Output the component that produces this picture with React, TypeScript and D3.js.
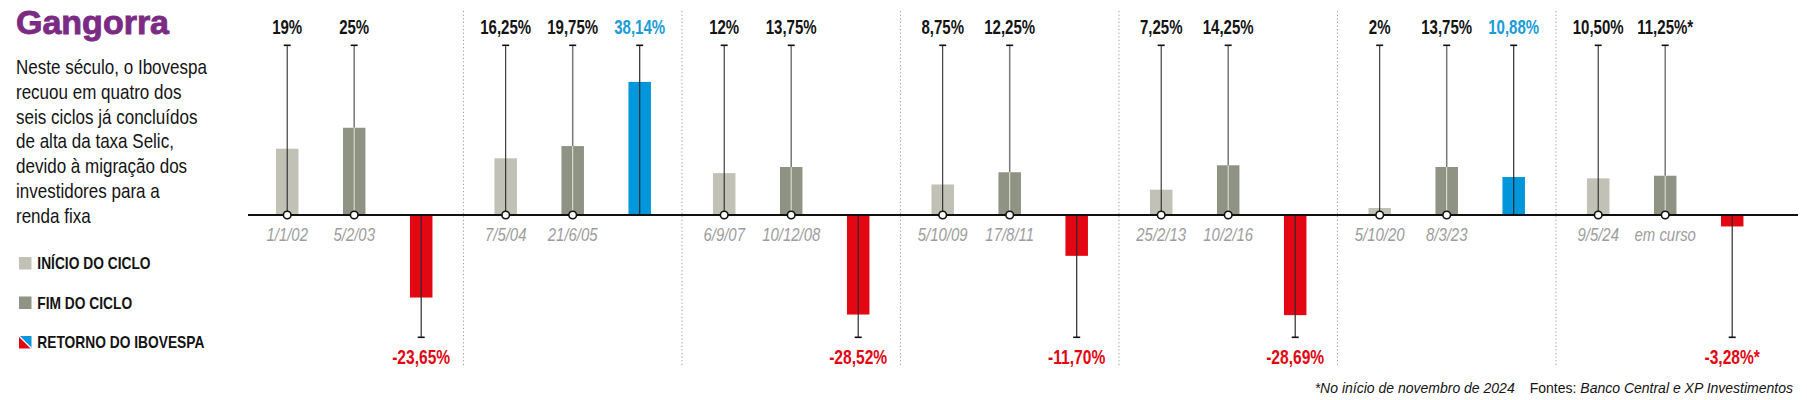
import React from 'react';
import * as d3 from 'd3';

// ---------- data ----------
const cycles = ['2002-2003', '2004-2005', '2007-2008', '2009-2011', '2013-2016', '2020-2023', '2024-'];
const startDates = ['1/1/02', '7/5/04', '6/9/07', '5/10/09', '25/2/13', '5/10/20', '9/5/24'];
const endDates = ['5/2/03', '21/6/05', '10/12/08', '17/8/11', '10/2/16', '8/3/23', 'em curso'];
const startRates = [19, 16.25, 12, 8.75, 7.25, 2, 10.5];
const endRates = [25, 19.75, 13.75, 12.25, 14.25, 13.75, 11.25];
const ibovReturns = [-23.65, 38.14, -28.52, -11.7, -28.69, 10.88, -3.28];
const provisional = [false, false, false, false, false, false, true];

const slots = ['start', 'end', 'ret'];

const titleText = 'Gangorra';
const subtitleLines = [
  'Neste século, o Ibovespa',
  'recuou em quatro dos',
  'seis ciclos já concluídos',
  'de alta da taxa Selic,',
  'devido à migração dos',
  'investidores para a',
  'renda fixa',
];
const legendLabels = ['INÍCIO DO CICLO', 'FIM DO CICLO', 'RETORNO DO IBOVESPA'];
const footnoteText = '*No início de novembro de 2024';
const sourcePrefix = 'Fontes: ';
const sourceText = 'Banco Central e XP Investimentos';

// ---------- style ----------
const W = 1807;
const H = 400;
const C = {
  start: '#c1c2b5',
  end: '#8f9383',
  up: '#0096db',
  upText: '#1b9bd8',
  down: '#e30613',
  title: '#7b2b84',
  text: '#141414',
  date: '#9d9d9d',
  sep: '#9a9a9a',
};
const FONT = '"Liberation Sans", Arial, sans-serif';

const fmtRate = (v: number) => (Number.isInteger(v) ? String(v) : v.toFixed(2)).replace('.', ',') + '%';
const fmtRet = (v: number) => v.toFixed(2).replace('.', ',') + '%';

type NTProps = {
  x: number;
  y: number;
  size: number;
  sx?: number;
  anchor?: 'start' | 'middle' | 'end';
  weight?: number;
  italic?: boolean;
  fill?: string;
  children: React.ReactNode;
};

// condensed text: horizontally squeezed Liberation Sans
function NText({ x, y, size, sx = 0.82, anchor = 'start', weight = 400, italic = false, fill = C.text, children }: NTProps) {
  return (
    <text
      transform={`translate(${x},${y}) scale(${sx},1)`}
      textAnchor={anchor}
      fontFamily={FONT}
      fontSize={size}
      fontWeight={weight}
      fontStyle={italic ? 'italic' : 'normal'}
      fill={fill}
    >
      {children}
    </text>
  );
}

export default function App() {
  const x = d3.scaleBand<string>().domain(cycles).range([253.5, 1783]);
  const slot = d3.scalePoint<string>().domain(slots).range([33.7, 167.7]);
  const y = d3.scaleLinear().domain([-30, 40]).range([319.7, 75.4]);
  const y0 = y(0);
  const whiskerTop = 45.3;
  const whiskerBottom = 337.3;
  const bw = 22.5;
  const capW = 3.5;
  const topLabelY = 33.5;
  const dateY = 240.5;
  const negLabelY = 363.5;
  const labelSize = 19.5;
  const labelSx = 0.77;

  const cx = (i: number, s: string) => (x(cycles[i]) as number) + (slot(s) as number);

  const separators = cycles.slice(0, -1).map((_, i) => (cx(i, 'ret') + cx(i + 1, 'start')) / 2);

  return (
    <svg width={W} height={H} style={{ position: 'absolute', left: 0, top: 0, background: '#fff' }}>
      {/* title & subtitle */}
      <text
        x={16}
        y={34}
        fontFamily={FONT}
        fontWeight={700}
        fontSize={34}
        fill={C.title}
        stroke={C.title}
        strokeWidth={0.9}
      >
        {titleText}
      </text>
      {subtitleLines.map((t, i) => (
        <NText key={i} x={16} y={74 + i * 24.8} size={20.5} sx={0.83}>
          {t}
        </NText>
      ))}

      {/* legend */}
      {legendLabels.map((t, i) => {
        const ly = 257 + i * 39.5;
        return (
          <g key={t}>
            {i < 2 ? (
              <rect x={19} y={ly} width={12.5} height={12.5} fill={i === 0 ? C.start : C.end} />
            ) : (
              <g>
                <path d={`M19,${ly}L19,${ly + 12.5}L31.5,${ly + 12.5}Z`} fill={C.down} />
                <path d={`M19,${ly}L31.5,${ly}L31.5,${ly + 12.5}Z`} fill={C.up} />
                <path d={`M19,${ly}L31.5,${ly + 12.5}`} stroke="#fff" strokeWidth={1.2} />
              </g>
            )}
            <NText x={37.3} y={ly + 12.3} size={16.8} weight={700}>
              {t}
            </NText>
          </g>
        );
      })}

      {/* separators */}
      {separators.map((sx, i) => (
        <line key={i} x1={sx} x2={sx} y1={11} y2={365} stroke={C.sep} strokeWidth={1} strokeDasharray="1.2,2.4" />
      ))}

      {cycles.map((c, i) => {
        const xs = cx(i, 'start');
        const xe = cx(i, 'end');
        const xr = cx(i, 'ret');
        const vs = startRates[i];
        const ve = endRates[i];
        const vr = ibovReturns[i];
        const pos = vr >= 0;
        return (
          <g key={c}>
            {/* start bar */}
            <rect x={xs - bw / 2} y={y(vs)} width={bw} height={y0 - y(vs)} fill={C.start} />
            <line x1={xs} x2={xs} y1={whiskerTop} y2={y0} stroke="#1a1a1a" strokeWidth={1} />
            <line x1={xs - capW} x2={xs + capW} y1={whiskerTop} y2={whiskerTop} stroke="#111" strokeWidth={1.6} />

            {/* end bar */}
            <rect x={xe - bw / 2} y={y(ve)} width={bw} height={y0 - y(ve)} fill={C.end} />
            <line x1={xe} x2={xe} y1={whiskerTop} y2={y(ve)} stroke="#777" strokeWidth={1.5} />
            <line x1={xe} x2={xe} y1={y(ve)} y2={y0} stroke="#e4e4dc" strokeWidth={1} />
            <line x1={xe - capW} x2={xe + capW} y1={whiskerTop} y2={whiskerTop} stroke="#111" strokeWidth={1.6} />

            {/* return bar */}
            <rect
              x={xr - bw / 2}
              y={Math.min(y(vr), y0)}
              width={bw}
              height={Math.abs(y(vr) - y0)}
              fill={pos ? C.up : C.down}
            />
            <line
              x1={xr}
              x2={xr}
              y1={pos ? whiskerTop : y0}
              y2={pos ? y0 : whiskerBottom}
              stroke="#2a2a2a"
              strokeWidth={1.2}
            />
            <line
              x1={xr - capW}
              x2={xr + capW}
              y1={pos ? whiskerTop : whiskerBottom}
              y2={pos ? whiskerTop : whiskerBottom}
              stroke="#111"
              strokeWidth={1.6}
            />

            {/* top labels */}
            <NText x={xs} y={topLabelY} anchor="middle" size={labelSize} sx={labelSx} weight={700}>
              {fmtRate(vs)}
            </NText>
            <NText x={xe} y={topLabelY} anchor="middle" size={labelSize} sx={labelSx} weight={700}>
              {fmtRate(ve) + (provisional[i] ? '*' : '')}
            </NText>
            {pos ? (
              <NText x={xr} y={topLabelY} anchor="middle" size={labelSize} sx={labelSx} weight={700} fill={C.upText}>
                {fmtRet(vr) + (provisional[i] ? '*' : '')}
              </NText>
            ) : (
              <NText x={xr} y={negLabelY} anchor="middle" size={labelSize} sx={0.8} weight={700} fill={C.down}>
                {fmtRet(vr) + (provisional[i] ? '*' : '')}
              </NText>
            )}

            {/* dates */}
            <NText x={xs} y={dateY} anchor="middle" size={18} sx={0.83} italic fill={C.date}>
              {startDates[i]}
            </NText>
            <NText x={xe} y={dateY} anchor="middle" size={18} sx={0.83} italic fill={C.date}>
              {endDates[i]}
            </NText>
          </g>
        );
      })}

      {/* baseline */}
      <line x1={248} x2={1798} y1={y0} y2={y0} stroke="#111" strokeWidth={2} />
      {cycles.map((c, i) => (
        <g key={'dots' + c}>
          <circle cx={cx(i, 'start')} cy={y0} r={3.8} fill="#fff" stroke="#111" strokeWidth={1.6} />
          <circle cx={cx(i, 'end')} cy={y0} r={3.8} fill="#fff" stroke="#111" strokeWidth={1.6} />
        </g>
      ))}

      {/* footer */}
      <text x={1793} y={392.5} textAnchor="end" fontFamily={FONT} fontSize={14} fill={C.text}>
        <tspan fontStyle="italic">{footnoteText}</tspan>
        <tspan dx={15}>{sourcePrefix}</tspan>
        <tspan fontStyle="italic">{sourceText}</tspan>
      </text>
    </svg>
  );
}
